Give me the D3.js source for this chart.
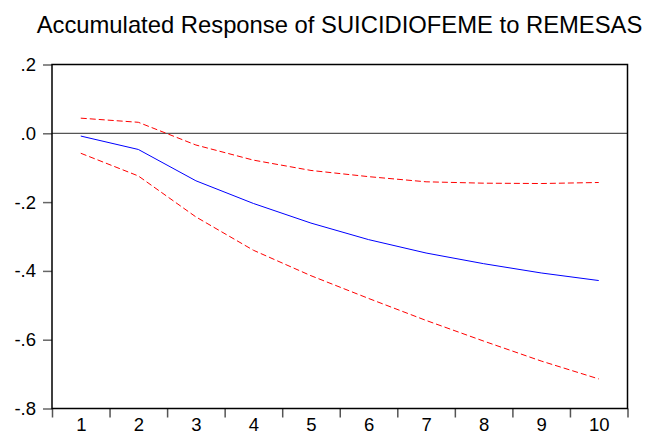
<!DOCTYPE html>
<html>
<head>
<meta charset="utf-8">
<script src="https://cdn.jsdelivr.net/npm/d3@7"></script>
<style>
  body { margin: 0; background: #fff; }
  svg { display: block; }
  text { font-family: "Liberation Sans", Arial, sans-serif; }
</style>
</head>
<body>
<div id="chart"></div>
<script>
// periods (horizon) and accumulated responses
var periods = [1, 2, 3, 4, 5, 6, 7, 8, 9, 10];
var response = [-0.008, -0.047, -0.138, -0.204, -0.261, -0.309, -0.348, -0.379, -0.406, -0.428];
var upperBand = [0.044, 0.032, -0.034, -0.078, -0.108, -0.126, -0.141, -0.145, -0.146, -0.143];
var lowerBand = [-0.058, -0.124, -0.243, -0.340, -0.414, -0.480, -0.544, -0.604, -0.662, -0.714];
var yTicks = [0.2, 0, -0.2, -0.4, -0.6, -0.8];
var yTickLabels = [".2", ".0", "-.2", "-.4", "-.6", "-.8"];
var title = "Accumulated Response of SUICIDIOFEME to REMESAS";

var width = 648, height = 435;
var margin = { top: 64.5, right: 20.5, bottom: 26.5, left: 52 };
var fontSize = 18.5;

var svg = d3.select('#chart').append('svg')
  .attr('width', width)
  .attr('height', height);

var x = d3.scaleLinear()
  .domain([0.5, 10.5])
  .range([margin.left, width - margin.right]);
var y = d3.scaleLinear()
  .domain([-0.8, 0.2])
  .range([height - margin.bottom, margin.top]);

// title
svg.append('text')
  .attr('x', 339.5)
  .attr('y', 33)
  .attr('text-anchor', 'middle')
  .attr('font-size', 23.8)
  .attr('fill', '#000')
  .text(title);

// zero line
svg.append('line')
  .attr('x1', x(0.5)).attr('x2', x(10.5))
  .attr('y1', y(0)).attr('y2', y(0))
  .attr('stroke', '#555')
  .attr('stroke-width', 1.3);

// y axis
var yAxis = d3.axisLeft(y)
  .tickValues(yTicks)
  .tickSize(9)
  .tickPadding(7)
  .tickFormat(function (d, i) { return yTickLabels[i]; });
var gy = svg.append('g')
  .attr('transform', 'translate(' + margin.left + ',0)')
  .call(yAxis);
gy.select('.domain').remove();
gy.selectAll('line').attr('stroke', '#666').attr('stroke-width', 1.5);
gy.selectAll('text').attr('font-size', fontSize).attr('fill', '#000')
  .attr('font-family', '"Liberation Sans", Arial, sans-serif');

// x axis: ticks on period boundaries, labels on periods
var bounds = d3.range(0.5, 11, 1);
var gxTicks = svg.append('g')
  .attr('transform', 'translate(0,' + y(-0.8) + ')')
  .call(d3.axisBottom(x).tickValues(bounds).tickSize(9).tickFormat(''));
gxTicks.select('.domain').remove();
gxTicks.selectAll('line').attr('stroke', '#555').attr('stroke-width', 1.5);

var gxLabels = svg.append('g')
  .attr('transform', 'translate(0,' + y(-0.8) + ')')
  .call(d3.axisBottom(x).tickValues(periods).tickSize(0).tickFormat(d3.format('d')));
gxLabels.select('.domain').remove();
gxLabels.selectAll('text')
  .attr('y', 22).attr('dy', null)
  .attr('font-size', fontSize).attr('fill', '#000')
  .attr('font-family', '"Liberation Sans", Arial, sans-serif');

// frame
svg.append('rect')
  .attr('x', x(0.5)).attr('y', y(0.2))
  .attr('width', x(10.5) - x(0.5))
  .attr('height', y(-0.8) - y(0.2))
  .attr('fill', 'none')
  .attr('stroke', '#000')
  .attr('stroke-width', 1.5);

var line = d3.line()
  .x(function (d, i) { return x(periods[i]); })
  .y(function (d) { return y(d); });

svg.append('path')
  .datum(upperBand)
  .attr('d', line)
  .attr('fill', 'none')
  .attr('stroke', '#ff0000')
  .attr('stroke-width', 1)
  .attr('stroke-dasharray', '6,3');

svg.append('path')
  .datum(lowerBand)
  .attr('d', line)
  .attr('fill', 'none')
  .attr('stroke', '#ff0000')
  .attr('stroke-width', 1)
  .attr('stroke-dasharray', '6,3');

svg.append('path')
  .datum(response)
  .attr('d', line)
  .attr('fill', 'none')
  .attr('stroke', '#0000ff')
  .attr('stroke-width', 1);
</script>
</body>
</html>
